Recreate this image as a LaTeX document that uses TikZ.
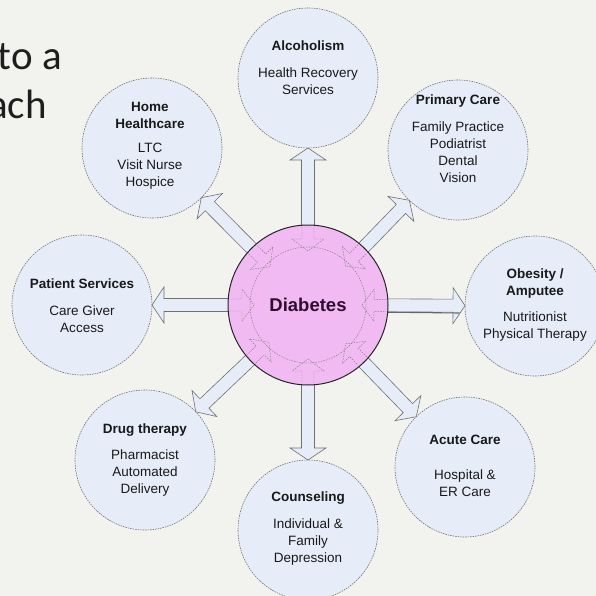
\documentclass[tikz,border=0pt]{standalone}
\usepackage{fontspec}
\setmainfont{Liberation Sans}
\newfontfamily\calib{Carlito}
\usetikzlibrary{calc}
\definecolor{bg}{HTML}{F2F2EE}
\definecolor{cfill}{HTML}{E7EDF8}
\definecolor{cline}{HTML}{707070}
\definecolor{pinkf}{HTML}{F2BAF2}
\definecolor{dtext}{HTML}{2E0E2E}
\definecolor{bigtext}{HTML}{1E1E1E}
\newcommand\blockarr[5]{%
  \draw[arrowst,#5] let \p1=($(#2)-(#1)$), \n1={atan2(\y1,\x1)},
      \n2={veclen(\x1,\y1)-#4}, \n3={\n2-12pt} in
    ($(#1)+(\n1:#3)+({\n1+90}:6.5pt)$) -- ($(#1)+(\n1:\n3)+({\n1+90}:6.5pt)$)
    -- ($(#1)+(\n1:\n3)+({\n1+90}:18pt)$) -- ($(#1)+(\n1:\n2)$)
    -- ($(#1)+(\n1:\n3)+({\n1-90}:18pt)$) -- ($(#1)+(\n1:\n3)+({\n1-90}:6.5pt)$)
    -- ($(#1)+(\n1:#3)+({\n1-90}:6.5pt)$) -- cycle;}
\begin{document}
\begin{tikzpicture}[x=1pt,y=-1pt,
  outer/.style={circle,minimum size=140pt,inner sep=0pt,fill=cfill,draw=cline,
    line width=0.6pt,dash pattern=on 1.5pt off 1pt},
  txt/.style={align=center,inner sep=0pt,font=\fontsize{13.5}{17}\selectfont,text=black!90},
  arrowst/.style={fill=cfill,draw=cline,line width=0.6pt},
  innerst/.style={draw=black!50,line width=0.45pt,dash pattern=on 1.5pt off 1.2pt},
  hub/.style={circle,minimum size=160pt,inner sep=0pt,fill=pinkf,draw=black!85,line width=1pt,
    font=\bfseries\fontsize{18.5}{20}\selectfont,text=dtext}]
\fill[bg] (0,0) rectangle (596,596);
\useasboundingbox (0,0) rectangle (596,596);
\clip (0,0) rectangle (596,596);
% big slide text
\node[anchor=base east,inner sep=0pt,font=\calib\fontsize{41}{49}\selectfont,text=bigtext] (ta) at (62,70) {to a};
\node[anchor=base east,inner sep=0pt,font=\calib\fontsize{41}{49}\selectfont,text=bigtext] (tb) at (47,119) {ach};
% outer circles
\node[outer] (alc) at (308,78) {};
\node[outer] (pri) at (458,150) {};
\node[outer] (obe) at (535,306) {};
\node[outer] (acu) at (465,467) {};
\node[outer] (cou) at (308,530) {};
\node[outer] (dru) at (145,460) {};
\node[outer] (pat) at (82,305) {};
\node[outer] (hom) at (152,148) {};
% hub position (for arrows)
\coordinate (hc) at (308,305);
% block arrows
\blockarr{hc}{alc}{60pt}{70pt}{}
\blockarr{hc}{pri}{60pt}{70pt}{}
\blockarr{hc}{obe}{60pt}{70pt}{}
\blockarr{hc}{acu}{60pt}{70pt}{}
\blockarr{hc}{cou}{60pt}{70pt}{}
\blockarr{hc}{dru}{60pt}{70pt}{}
\blockarr{hc}{pat}{60pt}{70pt}{}
\blockarr{hc}{hom}{60pt}{70pt}{}
\draw[black!60,line width=1.1pt] ($(hc)+(62pt,-7pt)$) -- ($(obe.west)+(-5pt,-7pt)$);
% hub
\node[hub] (dia) at (hc) {Diabetes};
% inner dashed burst
\draw[innerst] (dia) circle[radius=58pt];
\foreach \o in {alc,pri,obe,acu,cou,dru,pat,hom}{
  \draw[innerst] let \p1=($(\o)-(dia)$), \n1={atan2(\y1,\x1)} in
    ($(dia)+(\n1:78pt)+({\n1+90}:6pt)$) -- ($(dia)+(\n1:66pt)+({\n1+90}:6pt)$)
    -- ($(dia)+(\n1:66pt)+({\n1+90}:16pt)$) -- ($(dia)+(\n1:54pt)$)
    -- ($(dia)+(\n1:66pt)+({\n1-90}:16pt)$) -- ($(dia)+(\n1:66pt)+({\n1-90}:6pt)$)
    -- ($(dia)+(\n1:78pt)+({\n1-90}:6pt)$);
}
% texts
\node[txt] (alct) at (308,67.5) {\textbf{Alcoholism}\\[10pt]Health Recovery\\Services};
\node[txt] (homt) at (150,145.5) {\textbf{Home}\\\textbf{Healthcare}\\[7pt]LTC\\Visit Nurse\\Hospice};
\node[txt] (prit) at (458,139) {\textbf{Primary Care}\\[10pt]Family Practice\\Podiatrist\\Dental\\Vision};
\node[txt] (patt) at (82,305.5) {\textbf{Patient Services}\\[10pt]Care Giver\\Access};
\node[txt] (obet) at (535,305) {\textbf{Obesity /}\\\textbf{Amputee}\\[9pt]Nutritionist\\Physical Therapy};
\node[txt] (drut) at (145,460) {\textbf{Drug therapy}\\[9pt]Pharmacist\\Automated\\Delivery};
\node[txt] (acut) at (465,466) {\textbf{Acute Care}\\[18pt]Hospital \&\\ER Care};
\node[txt] (cout) at (308,528.5) {\textbf{Counseling}\\[10pt]Individual \&\\Family\\Depression};
\end{tikzpicture}
\end{document}
